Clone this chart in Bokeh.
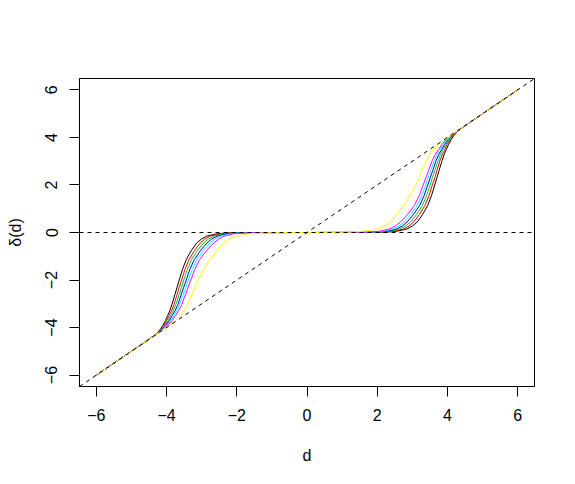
from bokeh.plotting import figure
from bokeh.models import Range1d, Span, Slope, FixedTicker
from bokeh.embed import file_html
from bokeh.resources import INLINE

# delta(d) levels (positive half); curves are odd-symmetric: delta(-d) = -delta(d)
delta_levels = [0.0, 0.005, 0.02, 0.06, 0.15, 0.28, 0.44, 0.75, 1.14, 1.55, 2.0, 2.3,
                2.6, 3.04, 3.3, 3.5, 3.7, 3.9, 4.05, 4.2, 4.33, 4.45, 4.6, 6.0]

# d positions where each curve reaches the levels above
d_black   = [0.0, 1.90, 2.30, 2.58, 2.85, 3.01, 3.14, 3.29, 3.44, 3.545, 3.64, 3.70,
             3.76, 3.85, 3.91, 3.97, 4.03, 4.10, 4.17, 4.25, 4.35, 4.47, 4.61, 6.0]
d_red     = [0.0, 1.81, 2.21, 2.48, 2.75, 2.91, 3.04, 3.20, 3.36, 3.475, 3.57, 3.64,
             3.70, 3.79, 3.86, 3.93, 3.99, 4.07, 4.15, 4.24, 4.35, 4.47, 4.61, 6.0]
d_green   = [0.0, 1.72, 2.12, 2.39, 2.65, 2.81, 2.95, 3.12, 3.29, 3.405, 3.51, 3.57,
             3.64, 3.74, 3.81, 3.88, 3.95, 4.04, 4.13, 4.23, 4.35, 4.46, 4.61, 6.0]
d_blue    = [0.0, 1.63, 2.03, 2.29, 2.55, 2.72, 2.85, 3.03, 3.21, 3.335, 3.44, 3.51,
             3.58, 3.68, 3.76, 3.84, 3.92, 4.01, 4.11, 4.23, 4.34, 4.46, 4.61, 6.0]
d_cyan    = [0.0, 1.54, 1.94, 2.20, 2.45, 2.62, 2.76, 2.95, 3.14, 3.265, 3.38, 3.45,
             3.52, 3.63, 3.71, 3.79, 3.88, 3.98, 4.09, 4.22, 4.34, 4.46, 4.61, 6.0]
d_magenta = [0.0, 1.45, 1.85, 2.10, 2.35, 2.52, 2.66, 2.86, 3.06, 3.195, 3.31, 3.385,
             3.46, 3.57, 3.66, 3.75, 3.84, 3.95, 4.07, 4.21, 4.34, 4.46, 4.61, 6.0]
d_yellow  = [0.0, 0.90, 1.30, 1.65, 2.03, 2.22, 2.38, 2.56, 2.76, 2.94, 3.10, 3.19,
             3.27, 3.41, 3.50, 3.60, 3.74, 3.93, 4.07, 4.21, 4.34, 4.46, 4.61, 6.0]

curve_colors = ["#000000", "#FF0000", "#00CD00", "#0000FF", "#00FFFF", "#FF00FF", "#FFFF00"]
curve_ds = [d_black, d_red, d_green, d_blue, d_cyan, d_magenta, d_yellow]

x_ticks = [-6, -4, -2, 0, 2, 4, 6]
y_ticks = [-6, -4, -2, 0, 2, 4, 6]

FONT = "Liberation Sans"

p = figure(width=559, height=468,
           x_range=Range1d(-6.48, 6.48), y_range=Range1d(-6.48, 6.48),
           output_backend="svg", toolbar_location=None,
           min_border_left=79, min_border_right=25,
           min_border_top=78, min_border_bottom=82,
           x_axis_label="d", y_axis_label="\u03b4(d)")

p.grid.visible = False
p.outline_line_color = "black"
p.outline_line_width = 1
p.background_fill_color = "white"
p.border_fill_color = "white"

p.xaxis.ticker = FixedTicker(ticks=x_ticks)
p.yaxis.ticker = FixedTicker(ticks=y_ticks)
for ax in (p.xaxis[0], p.yaxis[0]):
    ax.minor_tick_line_color = None
    ax.major_tick_in = 0
    ax.major_tick_out = 10
    ax.major_tick_line_color = "black"
    ax.axis_line_color = "black"
    ax.major_label_text_font = FONT
    ax.major_label_text_font_size = "16px"
    ax.major_label_text_color = "black"
    ax.axis_label_text_font = FONT
    ax.axis_label_text_font_size = "16px"
    ax.axis_label_text_font_style = "normal"
    ax.axis_label_text_color = "black"
    ax.major_label_standoff = 12
p.xaxis.axis_label_standoff = 23
p.yaxis.axis_label_standoff = 19
p.yaxis.major_label_orientation = "parallel"

for ds, col in zip(curve_ds, curve_colors):
    xs = [-v for v in reversed(ds)] + ds[1:]
    ys = [-v for v in reversed(delta_levels)] + delta_levels[1:]
    p.line(xs, ys, line_color=col, line_width=1)

p.add_layout(Span(location=0, dimension="width", line_color="black",
                  line_width=1, line_dash="4 4"))
p.add_layout(Slope(gradient=1, y_intercept=0, line_color="black",
                   line_width=1, line_dash="4 4"))

open("out.html", "w").write(file_html(p, INLINE))
